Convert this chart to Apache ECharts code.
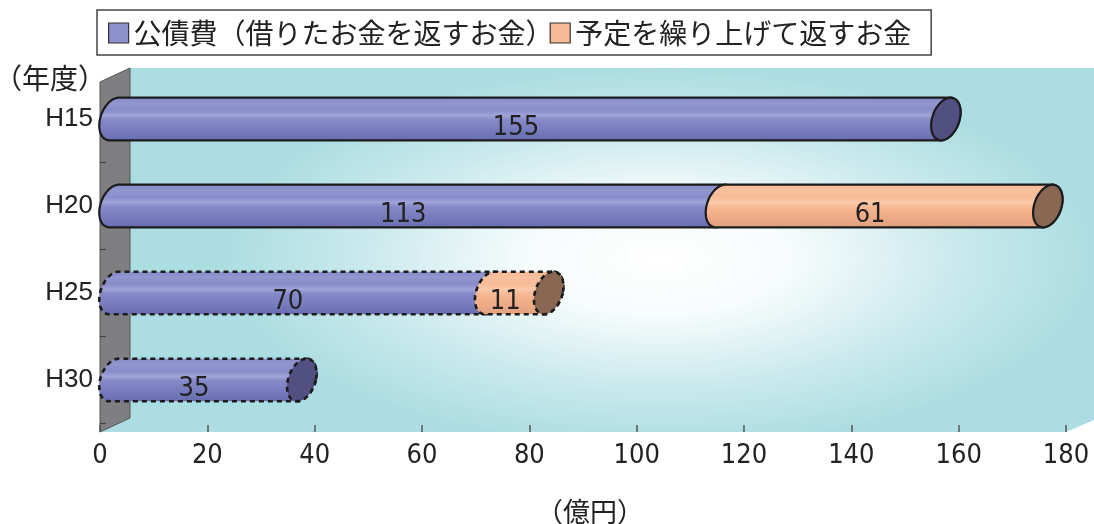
<!DOCTYPE html>
<html>
<head>
<meta charset="utf-8">
<script src="https://cdn.jsdelivr.net/npm/echarts@6/dist/echarts.min.js"></script>
<style>
	html, body { margin: 0; padding: 0; background: #fff; }
	#chart { width: 1094px; height: 524px; }
</style>
</head>
<body>
<div id="chart"></div>
<script>
var years = ["H15", "H20", "H25", "H30"]; //年度
var kousaiValues = [155, 113, 70, 35]; //公債費
var kuriageValues = [0, 61, 11, 0]; //繰り上げ償還
var planned = [false, false, true, true]; //見込み（点線）
var seriesNames = ["公債費（借りたお金を返すお金）", "予定を繰り上げて返すお金"];

var jpFont = "'Noto Sans CJK JP', sans-serif";
var narrowFont = "'Liberation Sans Narrow', 'DejaVu Sans Condensed', 'Arial Narrow', sans-serif";

//円柱の色
var bodyColors = [
	[["0", "#8287c6"], ["0.15", "#9297cf"], ["0.3", "#878ccb"], ["0.42", "#a0a4d8"], ["0.52", "#8589c7"], ["0.75", "#777cbe"], ["1", "#676cb0"]],
	[["0", "#f4b692"], ["0.15", "#f9c09e"], ["0.3", "#f7bb97"], ["0.42", "#fccaa9"], ["0.52", "#f6b893"], ["0.75", "#eeab86"], ["1", "#dea07f"]]
];
var capColors = ["#524f82", "#8a6753"];
var legendColors = ["#8d92cc", "#f7b994"];

function ellipsePts(cx, cy, rx, ry, t0, t1, n) {
	var pts = [];
	var s = 0.22;
	for (var i = 0; i <= n; i++) {
		var t = (t0 + (t1 - t0) * i / n) * Math.PI / 180;
		var dy = ry * Math.sin(t);
		pts.push([cx + rx * Math.cos(t) - s * dy, cy + dy]);
	}
	return pts;
}

function makeRender(idx) {
	return function(params, api) {
		var cat = api.value(0);
		var pa = api.coord([api.value(1), cat]);
		var pb = api.coord([api.value(2), cat]);
		var band = api.size([0, 1])[1];
		var ry = band * 0.245, rx = 14;
		var cy = pa[1];
		var xa = pa[0] + rx, xb = pb[0] + rx;
		var isLast = api.value(3) === 1;
		var dashed = api.value(4) === 1;
		var stroke = {
			stroke: "#1c1c1c",
			lineWidth: dashed ? 2.6 : 2.2,
			lineDash: dashed ? [5, 4] : null
		};
		var body = ellipsePts(xb, cy, rx, ry, -90, 90, 24).concat(ellipsePts(xa, cy, rx, ry, 90, 270, 24));
		var stops = bodyColors[idx].map(function(s) { return { offset: +s[0], color: s[1] }; });
		var children = [{
			type: "polygon",
			shape: { points: body },
			style: Object.assign({ fill: new echarts.graphic.LinearGradient(0, 0, 0, 1, stops) }, stroke)
		}];
		if (isLast) {
			children.push({
				type: "polygon",
				shape: { points: ellipsePts(xb, cy, rx, ry, 0, 360, 48) },
				style: Object.assign({ fill: capColors[idx] }, stroke)
			});
		}
		children.push({
			type: "text",
			style: {
				text: String(api.value(5)),
				x: (pa[0] + pb[0]) / 2,
				y: cy + 9,
				align: "center",
				verticalAlign: "middle",
				fill: "#222",
				font: "27px " + narrowFont
			}
		});
		return { type: "group", children: children };
	};
}

var kousaiData = years.map(function(y, i) {
	return [i, 0, kousaiValues[i], kuriageValues[i] > 0 ? 0 : 1, planned[i] ? 1 : 0, kousaiValues[i]];
});
var kuriageData = [];
years.forEach(function(y, i) {
	if (kuriageValues[i] > 0) {
		kuriageData.push([i, kousaiValues[i], kousaiValues[i] + kuriageValues[i], 1, planned[i] ? 1 : 0, kuriageValues[i]]);
	}
});

var chart = echarts.init(document.getElementById("chart"));

var gLeft = 100, gRight = 28, gTop = 75.5, gBottom = 100.5;
var axisY = 432, depthX = 30, depthY = 14;

var option = {
	animation: false,
	legend: {
		left: 97,
		top: 10,
		padding: [9, 20, 8, 11],
		itemGap: -4,
		itemTextGap: 9,
		itemWidth: 20,
		itemHeight: 20,
		icon: "rect",
		borderColor: "#444",
		borderWidth: 1.5,
		textStyle: { fontFamily: jpFont, fontSize: 28, color: "#222" },
		itemStyle: { borderColor: "#333", borderWidth: 1.2 },
		data: [
			{ name: seriesNames[0], itemStyle: { color: legendColors[0] } },
			{ name: seriesNames[1], itemStyle: { color: legendColors[1] } }
		]
	},
	grid: { left: gLeft, right: gRight, top: gTop, bottom: gBottom, outerBoundsMode: "none", containLabel: false },
	xAxis: {
		type: "value",
		min: 0,
		max: 180,
		interval: 20,
		offset: axisY - (524 - gBottom),
		z: 3,
		name: "（億円）",
		nameLocation: "middle",
		nameGap: 66,
		nameTextStyle: { fontFamily: jpFont, fontSize: 27, color: "#222", padding: [0, 0, 0, 14] },
		axisLine: { lineStyle: { color: "#555", width: 2 } },
		axisTick: { show: true, inside: true, length: 7, lineStyle: { color: "#555", width: 1.5 } },
		splitLine: { show: false },
		axisLabel: {
			margin: 10,
			fontSize: 27,
			color: "#222",
			fontFamily: narrowFont
		}
	},
	yAxis: {
		type: "category",
		data: years,
		inverse: true,
		z: 3,
		axisLine: { show: false },
		axisTick: {
			show: true,
			inside: true,
			length: 6,
			interval: function(index) { return index > 0; },
			lineStyle: { color: "#444", width: 1.2 }
		},
		axisLabel: {
			margin: 7,
			fontSize: 26,
			color: "#222",
			fontFamily: "'Liberation Sans', Arial, sans-serif"
		}
	},
	graphic: [
		{
			type: "polygon",
			z: -3,
			silent: true,
			shape: {
				points: [[gLeft + depthX, 68], [1094, 68], [1094, axisY - 12], [1094 - gRight, axisY], [gLeft, axisY], [gLeft, 82]]
			},
			style: { fill: "#acdde2" }
		},
		{
			type: "rect",
			z: -2,
			silent: true,
			x: 660,
			y: 258,
			scaleX: 2.3,
			scaleY: 1,
			shape: { x: -190, y: -190, width: 380, height: 380 },
			style: {
				fill: new echarts.graphic.RadialGradient(0.5, 0.5, 0.5, [
					{ offset: 0, color: "rgba(255,255,255,1)" },
					{ offset: 0.3, color: "rgba(255,255,255,0.9)" },
					{ offset: 0.65, color: "rgba(255,255,255,0.4)" },
					{ offset: 1, color: "rgba(255,255,255,0)" }
				])
			}
		},
		{
			type: "polygon",
			z: -1,
			silent: true,
			shape: {
				points: [[gLeft, 82], [gLeft + depthX, 68], [gLeft + depthX, axisY - depthY], [gLeft, axisY]]
			},
			style: { fill: "#7f7f81", stroke: "#555", lineWidth: 1 }
		},
		{
			type: "text",
			left: -6,
			top: 64,
			style: { text: "（年度）", font: "28px " + jpFont, fill: "#222" }
		}
	],
	series: [
		{
			name: seriesNames[0],
			type: "custom",
			z: 4,
			renderItem: makeRender(0),
			itemStyle: { color: legendColors[0] },
			encode: { x: [1, 2], y: 0 },
			data: kousaiData
		},
		{
			name: seriesNames[1],
			type: "custom",
			z: 4,
			renderItem: makeRender(1),
			itemStyle: { color: legendColors[1] },
			encode: { x: [1, 2], y: 0 },
			data: kuriageData
		}
	]
};
chart.setOption(option);
</script>
</body>
</html>
